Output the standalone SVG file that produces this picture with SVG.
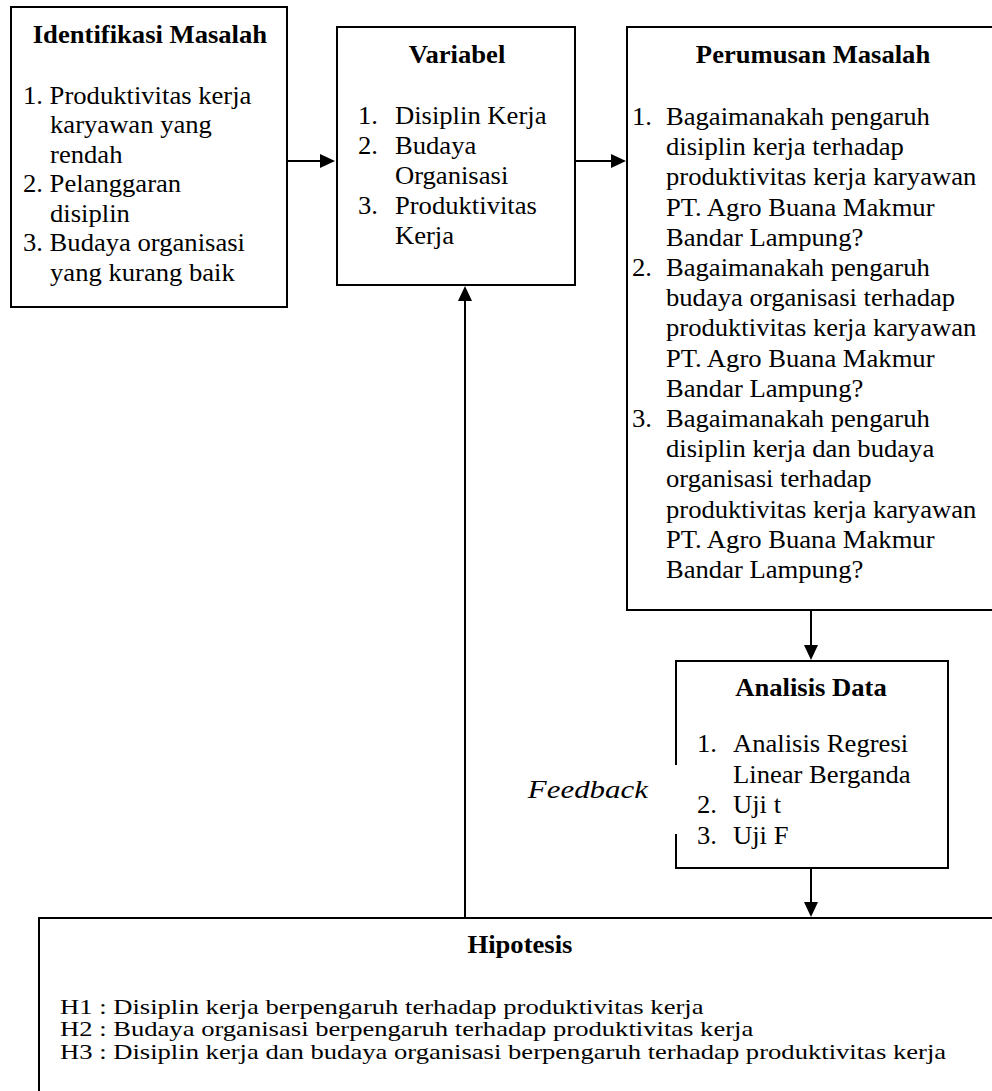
<svg xmlns="http://www.w3.org/2000/svg" width="992" height="1091" viewBox="0 0 992 1091">
<style>
.box{fill:#fff;stroke:#000;stroke-width:2}
.t{font-family:"Liberation Serif","Times New Roman",serif;font-size:25px;fill:#000}
.s{font-size:22px}
.b{font-weight:bold;text-anchor:middle}
.i{font-style:italic;text-anchor:end;font-size:26px}
.c{stroke:#000;stroke-width:2;fill:none}
</style>
<defs>
<marker id="ah" viewBox="0 0 15 14" refX="0" refY="7" markerWidth="15" markerHeight="14" markerUnits="userSpaceOnUse" orient="auto">
<path d="M0,0 L15,7 L0,14 z" fill="#000"/>
</marker>
</defs>
<rect width="992" height="1091" fill="#fff"/>

<g id="identifikasi">
<rect class="box" x="11" y="7" width="276" height="300"/>
<g transform="translate(23 0) scale(1.065 1)">
<text class="t b" x="119.2" y="43">Identifikasi Masalah</text>
<text class="t" x="0" y="104">1. Produktivitas kerja</text>
<text class="t" x="25.4" y="133.5">karyawan yang</text>
<text class="t" x="25.4" y="163">rendah</text>
<text class="t" x="0" y="192.5">2. Pelanggaran</text>
<text class="t" x="25.4" y="222">disiplin</text>
<text class="t" x="0" y="251.5">3. Budaya organisasi</text>
<text class="t" x="25.4" y="281">yang kurang baik</text>
</g>
</g>

<g id="variabel">
<rect class="box" x="337" y="27" width="238" height="258"/>
<g transform="translate(358 0) scale(1.065 1)">
<text class="t b" x="93" y="63">Variabel</text>
<text class="t" x="0" y="124">1.</text><text class="t" x="34.7" y="124">Disiplin Kerja</text>
<text class="t" x="0" y="154">2.</text><text class="t" x="34.7" y="154">Budaya</text>
<text class="t" x="34.7" y="184">Organisasi</text>
<text class="t" x="0" y="214">3.</text><text class="t" x="34.7" y="214">Produktivitas</text>
<text class="t" x="34.7" y="244">Kerja</text>
</g>
</g>

<g id="perumusan">
<rect class="box" x="627" y="27" width="380" height="583"/>
<g transform="translate(632 0) scale(1.065 1)">
<text class="t b" x="170" y="63">Perumusan Masalah</text>
<text class="t" x="0" y="125">1.</text><text class="t" x="31.9" y="125">Bagaimanakah pengaruh</text>
<text class="t" x="31.9" y="155.2">disiplin kerja terhadap</text>
<text class="t" x="31.9" y="185.4">produktivitas kerja karyawan</text>
<text class="t" x="31.9" y="215.6">PT. Agro Buana Makmur</text>
<text class="t" x="31.9" y="245.8">Bandar Lampung?</text>
<text class="t" x="0" y="276">2.</text><text class="t" x="31.9" y="276">Bagaimanakah pengaruh</text>
<text class="t" x="31.9" y="306.2">budaya organisasi terhadap</text>
<text class="t" x="31.9" y="336.4">produktivitas kerja karyawan</text>
<text class="t" x="31.9" y="366.6">PT. Agro Buana Makmur</text>
<text class="t" x="31.9" y="396.8">Bandar Lampung?</text>
<text class="t" x="0" y="427">3.</text><text class="t" x="31.9" y="427">Bagaimanakah pengaruh</text>
<text class="t" x="31.9" y="457.2">disiplin kerja dan budaya</text>
<text class="t" x="31.9" y="487.4">organisasi terhadap</text>
<text class="t" x="31.9" y="517.6">produktivitas kerja karyawan</text>
<text class="t" x="31.9" y="547.8">PT. Agro Buana Makmur</text>
<text class="t" x="31.9" y="578">Bandar Lampung?</text>
</g>
</g>

<g id="analisis">
<path class="box" d="M676,765 V661 H948 V868 H676 V834"/>
<g transform="translate(697 0) scale(1.065 1)">
<text class="t b" x="107" y="696">Analisis Data</text>
<text class="t" x="0" y="752">1.</text><text class="t" x="33.8" y="752">Analisis Regresi</text>
<text class="t" x="33.8" y="783">Linear Berganda</text>
<text class="t" x="0" y="813">2.</text><text class="t" x="33.8" y="813">Uji t</text>
<text class="t" x="0" y="844">3.</text><text class="t" x="33.8" y="844">Uji F</text>
</g>
</g>

<g id="hipotesis">
<rect class="box" x="39" y="918" width="970" height="190"/>
<g transform="translate(60 0) scale(1.065 1)">
<text class="t b" x="431.9" y="953">Hipotesis</text>
</g>
<g transform="translate(60 0) scale(1.21 1)">
<text class="t s" x="0" y="1014">H1 : Disiplin kerja berpengaruh terhadap produktivitas kerja</text>
<text class="t s" x="0" y="1036.5">H2 : Budaya organisasi berpengaruh terhadap produktivitas kerja</text>
<text class="t s" x="0" y="1059">H3 : Disiplin kerja dan budaya organisasi berpengaruh terhadap produktivitas kerja</text>
</g>
</g>

<g id="connectors">
<line class="c" x1="287" y1="161" x2="320" y2="161" marker-end="url(#ah)"/>
<line class="c" x1="575" y1="161" x2="611" y2="161" marker-end="url(#ah)"/>
<line class="c" x1="811" y1="610" x2="811" y2="645" marker-end="url(#ah)"/>
<line class="c" x1="811" y1="868" x2="811" y2="902" marker-end="url(#ah)"/>
<line class="c" x1="465" y1="918" x2="465" y2="301" marker-end="url(#ah)"/>
<g transform="translate(648 0) scale(1.19 1)">
<text class="t i" x="0" y="798">Feedback</text>
</g>
</g>
</svg>
